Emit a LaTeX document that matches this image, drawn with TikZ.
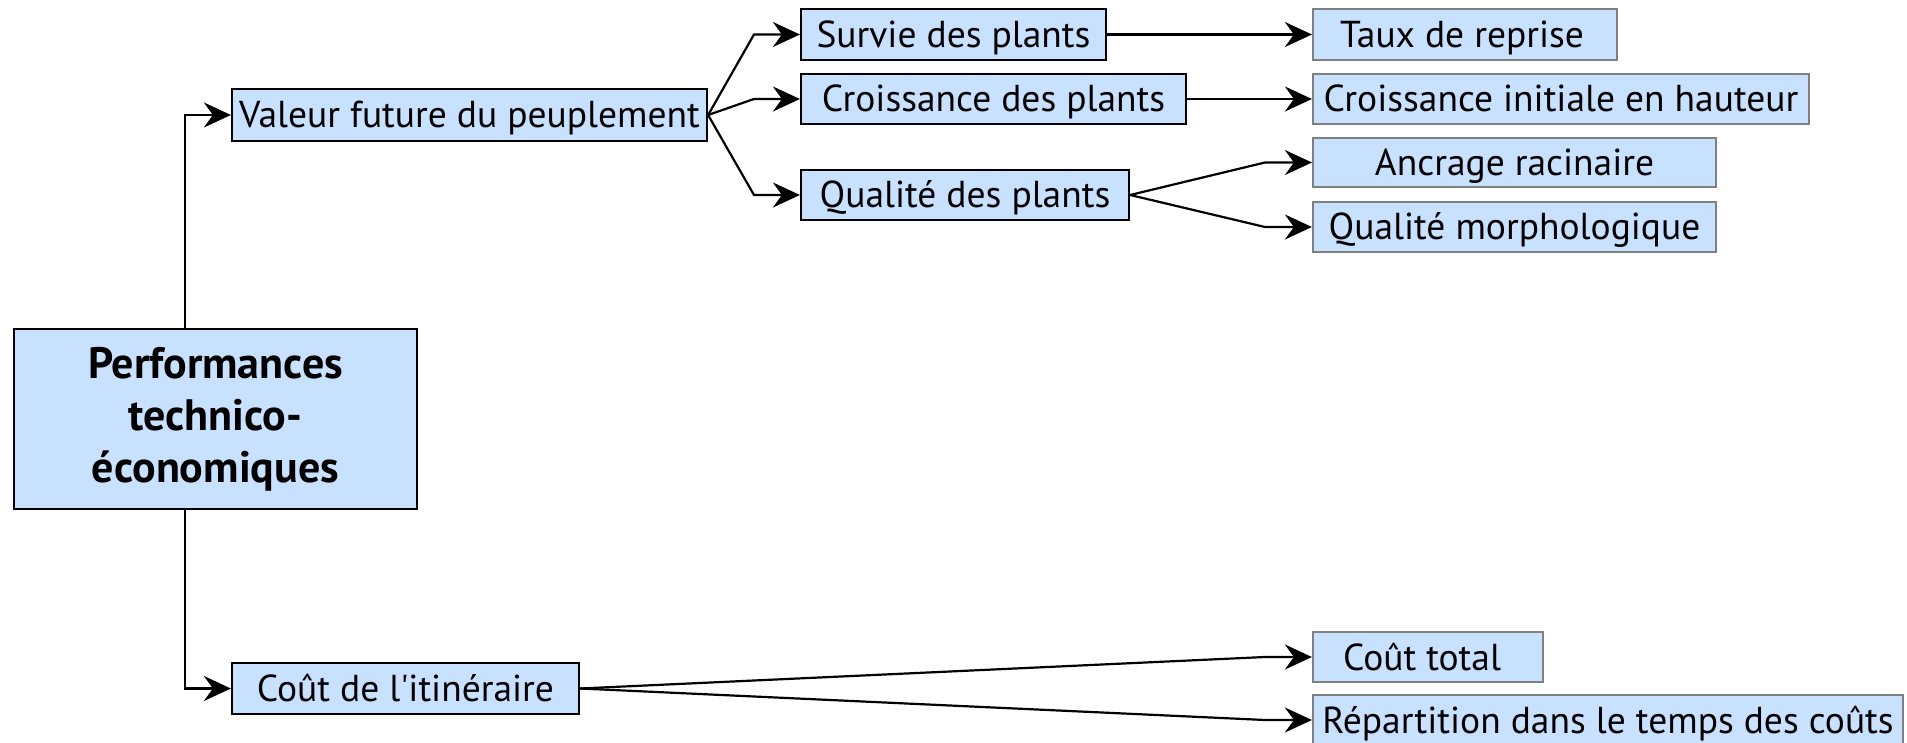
\documentclass[tikz,border=0pt]{standalone}
\usepackage{fontspec}
\setmainfont{PT Sans}[Ligatures=TeXOff]
\usetikzlibrary{arrows.meta}
\definecolor{boxfill}{RGB}{199,225,255}
\definecolor{boxgray}{RGB}{128,128,128}
\begin{document}
\begin{tikzpicture}[x=1pt,y=-1pt,
  basebox/.style={rectangle, fill=boxfill, line width=2.2pt, inner xsep=0pt, inner ysep=0pt,
    font=\fontsize{37.5}{44}\selectfont, text height=26pt, text depth=0pt, anchor=center},
  leftbox/.style={basebox, draw=black},
  rightbox/.style={basebox, draw=boxgray},
  conn/.style={line width=2.2pt, -{Stealth[length=27pt,width=25pt,inset=9pt]}}
]
\useasboundingbox (0,0) rectangle (1907,743);

% nodes
\node[leftbox, minimum width=403pt, minimum height=180pt, align=center,
      font=\bfseries\fontsize{44}{52}\selectfont, text height=, text depth=] (perf) at (215.5,419)
  {Performances\\technico-\\économiques};
\node[leftbox, minimum width=475pt, minimum height=52pt] (val) at (469.5,115) {Valeur future du peuplement};
\node[leftbox, minimum width=347pt, minimum height=51pt] (cout) at (405.5,688.5) {Coût de l'itinéraire};

\node[leftbox, minimum width=305pt, minimum height=51pt] (surv) at (953.5,34.5) {Survie des plants};
\node[leftbox, minimum width=385pt, minimum height=50pt] (croi) at (993.5,99) {Croissance des plants};
\node[leftbox, minimum width=328pt, minimum height=50pt] (qual) at (965,195) {Qualité des plants};

\node[rightbox, minimum width=304pt, minimum height=51pt] (taux) at (1465,34.5) {Taux de reprise\kern6pt};
\node[rightbox, minimum width=496pt, minimum height=50pt] (cini) at (1561,99) {Croissance initiale en hauteur};
\node[rightbox, minimum width=403pt, minimum height=49pt] (ancr) at (1514.5,162.5) {Ancrage racinaire};
\node[rightbox, minimum width=403pt, minimum height=50pt] (morph) at (1514.5,227) {Qualité morphologique};
\node[rightbox, minimum width=230pt, minimum height=50pt] (ctot) at (1428,657) {Coût total\kern12pt};
\node[rightbox, minimum width=590pt, minimum height=50pt] (rep) at (1608,720) {Répartition dans le temps des coûts};

% helper coordinates
\coordinate (trunk) at (185,0);
\coordinate (fa) at (754,0);
\coordinate (fb) at (1265,0);

% connectors
\draw[conn] (perf.north -| trunk) |- (val.west);
\draw[conn] (perf.south -| trunk) |- (cout.west);

\draw[conn] (val.east) -- (fa |- surv.west) -- (surv.west);
\draw[conn] (val.east) -- (fa |- croi.west) -- (croi.west);
\draw[conn] (val.east) -- (fa |- qual.west) -- (qual.west);

\draw[conn] (surv.east) -- (taux.west);
\draw[conn] (croi.east) -- (cini.west);

\draw[conn] (qual.east) -- (fb |- ancr.west) -- (ancr.west);
\draw[conn] (qual.east) -- (fb |- morph.west) -- (morph.west);

\draw[conn] (cout.east) -- (fb |- ctot.west) -- (ctot.west);
\draw[conn] (cout.east) -- (fb |- rep.west) -- (rep.west);
\end{tikzpicture}
\end{document}
